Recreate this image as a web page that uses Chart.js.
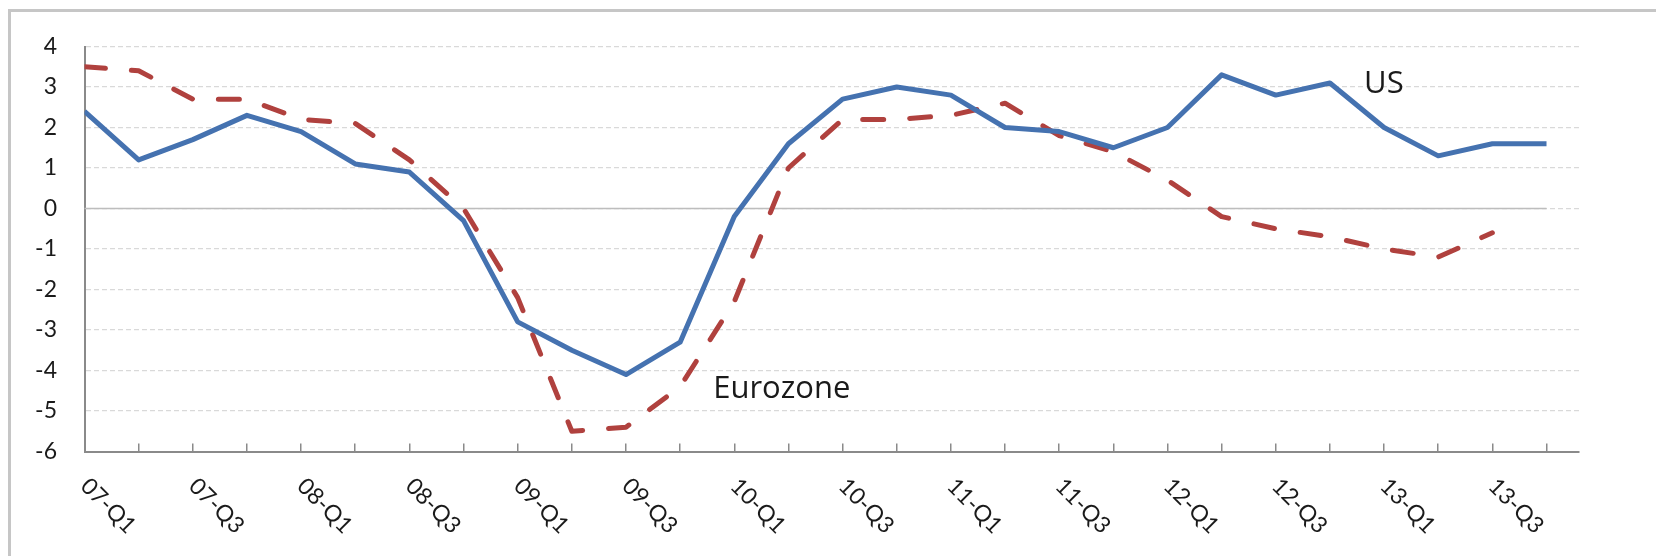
<!DOCTYPE html>
<html>
<head>
<meta charset="utf-8">
<title>US vs Eurozone GDP growth</title>
<script src="https://cdn.jsdelivr.net/npm/chart.js@4.4.1/dist/chart.umd.min.js"></script>
<style>
  html, body { margin: 0; padding: 0; background: #fff; }
  #frame { position: relative; width: 1656px; height: 556px; overflow: hidden; }
  #edge { position: absolute; left: 8px; top: 9px; width: 1700px; height: 600px;
          border-left: 3px solid #c6c6c6; border-top: 3px solid #c6c6c6; }
  #box { position: absolute; left: 0; top: 0; width: 1656px; height: 556px; }
</style>
</head>
<body>
<div id="frame">
  <div id="edge"></div>
  <div id="box"><canvas id="growth-chart"></canvas></div>
</div>
<script>
const quarters = [
  '07-Q1', '07-Q2', '07-Q3', '07-Q4', '08-Q1', '08-Q2', '08-Q3', '08-Q4',
  '09-Q1', '09-Q2', '09-Q3', '09-Q4', '10-Q1', '10-Q2', '10-Q3', '10-Q4',
  '11-Q1', '11-Q2', '11-Q3', '11-Q4', '12-Q1', '12-Q2', '12-Q3', '12-Q4',
  '13-Q1', '13-Q2', '13-Q3', '13-Q4'
];
const usGrowth = [
  2.4, 1.2, 1.7, 2.3, 1.9, 1.1, 0.9, -0.3,
  -2.8, -3.5, -4.1, -3.3, -0.2, 1.6, 2.7, 3.0,
  2.8, 2.0, 1.9, 1.5, 2.0, 3.3, 2.8, 3.1,
  2.0, 1.3, 1.6, 1.6
];
const euroGrowth = [
  3.5, 3.4, 2.7, 2.7, 2.2, 2.1, 1.2, 0.0,
  -2.2, -5.5, -5.4, -4.4, -2.3, 1.0, 2.2, 2.2,
  2.3, 2.6, 1.8, 1.4, 0.7, -0.2, -0.5, -0.7,
  -1.0, -1.2, -0.6, null
];
const seriesNames = ['US', 'Eurozone'];
// where the series names sit, in axis units (quarter index, growth %)
const nameSpots = [[23.63, 3.07], [11.61, -4.47]];

const FONT = 'Lato';
const TAG_FONT = '"Open Sans"';

// labels read downward from the tick, so anchor them on the left
const slantLabels = {
  id: 'slantLabels',
  beforeDraw(chart) {
    chart.scales.x._getXAxisLabelAlignment = () => 'left';
    chart.scales.x._labelItems = null;
  }
};

// solid zero line, only as long as the data runs
const zeroLine = {
  id: 'zeroLine',
  beforeDatasetsDraw(chart) {
    const { ctx, scales: { x, y } } = chart;
    const yy = y.getPixelForValue(0);
    ctx.save();
    ctx.strokeStyle = '#bdbdbd';
    ctx.lineWidth = 1.5;
    ctx.beginPath();
    ctx.moveTo(x.getPixelForValue(0), yy);
    ctx.lineTo(x.getPixelForValue(quarters.length - 1), yy);
    ctx.stroke();
    ctx.restore();
  }
};

const seriesTags = {
  id: 'seriesTags',
  afterDatasetsDraw(chart) {
    const { ctx, scales: { x, y } } = chart;
    ctx.save();
    ctx.font = `31px ${TAG_FONT}`;
    ctx.fillStyle = '#1a1a1a';
    ctx.textAlign = 'left';
    ctx.textBaseline = 'middle';
    seriesNames.forEach((name, i) => {
      ctx.fillText(name, x.getPixelForValue(nameSpots[i][0]), y.getPixelForValue(nameSpots[i][1]));
    });
    ctx.restore();
  }
};

function printTheChart() {
  const ctx = document.getElementById('growth-chart').getContext('2d');
  new Chart(ctx, {
    type: 'line',
    data: {
      datasets: [
        {
          label: seriesNames[0],
          data: usGrowth.map((v, i) => ({ x: i, y: v })),
          borderColor: '#4572b0',
          borderWidth: 5,
          borderJoinStyle: 'round',
          pointRadius: 0,
          tension: 0,
          order: 1
        },
        {
          label: seriesNames[1],
          data: euroGrowth.map((v, i) => ({ x: i, y: v })),
          borderColor: '#b0413e',
          borderWidth: 5,
          borderDash: [21, 26],
          borderCapStyle: 'round',
          borderJoinStyle: 'round',
          pointRadius: 0,
          tension: 0,
          spanGaps: false,
          order: 2
        }
      ]
    },
    options: {
      responsive: true,
      maintainAspectRatio: false,
      animation: false,
      layout: { padding: { top: 46.5, right: 77, left: 0, bottom: 0 } },
      plugins: { legend: { display: false }, tooltip: { enabled: false } },
      scales: {
        x: {
          type: 'linear',
          min: 0,
          max: 27.6,
          afterFit: s => { s.height = 104.5; },
          grid: { drawOnChartArea: false, drawTicks: true, tickLength: -8, color: '#8a8a8a', lineWidth: 1.5 },
          border: { color: '#8a8a8a', width: 2 },
          ticks: {
            stepSize: 1,
            includeBounds: false,
            autoSkip: false,
            maxTicksLimit: 100,
            minRotation: -45,
            maxRotation: -45,
            padding: 29,
            color: '#1a1a1a',
            font: { family: FONT, size: 23 },
            callback: v => (v % 2 === 0 ? quarters[v] : '')
          }
        },
        y: {
          min: -6,
          max: 4,
          afterFit: s => { s.width = 84.5; },
          grid: { color: '#d9d9d9', lineWidth: 1.2, drawTicks: false },
          border: { color: '#8a8a8a', width: 2, dash: [5, 3] },
          ticks: {
            stepSize: 1,
            padding: 27.5,
            color: '#1a1a1a',
            font: { family: FONT, size: 23 }
          }
        }
      }
    },
    plugins: [slantLabels, zeroLine, seriesTags]
  });
}

Promise.all([
  document.fonts.load(`23px ${FONT}`),
  document.fonts.load(`31px ${TAG_FONT}`)
]).then(printTheChart, printTheChart);
</script>
</body>
</html>
